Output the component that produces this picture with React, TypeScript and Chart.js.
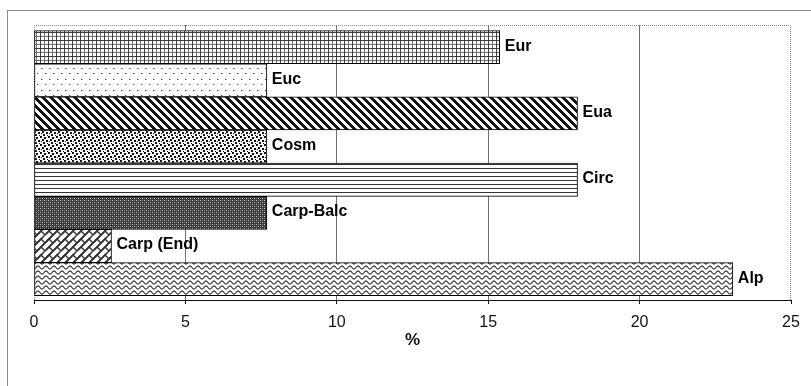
import React, { useEffect, useRef } from "react";
import { Chart, registerables } from "chart.js";

Chart.register(...registerables);

// Chorological spectrum: share of taxa (%) per element, listed top to bottom
const categories = ["Eur", "Euc", "Eua", "Cosm", "Circ", "Carp-Balc", "Carp (End)", "Alp"];
const shares = [15.38, 7.69, 17.95, 7.69, 17.95, 7.69, 2.56, 23.08];
const xTicks = [0, 5, 10, 15, 20, 25];
const axisTitle = "%";

// hatch fill used for each bar, same order as the categories
const hatchNames = ["grid", "sparseDots", "wideDiag", "confetti", "hLines", "darkLattice", "shingle", "wave"];

const FONT = "'Liberation Sans', Arial, Helvetica, sans-serif";

function makeTile(w: number, h: number, draw: (g: CanvasRenderingContext2D) => void): HTMLCanvasElement {
  const c = document.createElement("canvas");
  c.width = w;
  c.height = h;
  const g = c.getContext("2d") as CanvasRenderingContext2D;
  g.fillStyle = "#fff";
  g.fillRect(0, 0, w, h);
  draw(g);
  return c;
}

function hatchTile(name: string): HTMLCanvasElement {
  switch (name) {
    case "grid":
      return makeTile(8, 8, (g) => {
        g.fillStyle = "#707070";
        g.fillRect(0, 4, 8, 1);
        g.fillRect(4, 0, 1, 8);
        g.fillStyle = "#3c3c3c";
        g.fillRect(0, 0, 8, 1);
        g.fillRect(0, 0, 1, 8);
      });
    case "sparseDots":
      return makeTile(8, 11, (g) => {
        g.fillStyle = "#555";
        g.fillRect(1, 2, 1, 1);
        g.fillRect(5, 7, 1, 1);
        g.fillStyle = "#aaa";
        g.fillRect(2, 2, 1, 1);
        g.fillRect(6, 7, 1, 1);
      });
    case "wideDiag":
      return makeTile(8, 8, (g) => {
        g.fillStyle = "#111";
        for (let y = 0; y < 8; y++) {
          for (let k = 0; k < 4; k++) g.fillRect((y + k) % 8, y, 1, 1);
        }
      });
    case "confetti":
      return makeTile(8, 8, (g) => {
        g.fillStyle = "#111";
        const spots = [
          [0, 0],
          [4, 1],
          [2, 3],
          [6, 4],
          [3, 6],
        ];
        for (const [x, y] of spots) g.fillRect(x, y, 2, 2);
        g.fillRect(7, 7, 1, 1);
        g.fillRect(1, 5, 1, 1);
      });
    case "hLines":
      return makeTile(1, 4, (g) => {
        g.fillStyle = "#333";
        g.fillRect(0, 0, 1, 1);
      });
    case "darkLattice":
      return makeTile(4, 4, (g) => {
        g.fillStyle = "#3a3a3a";
        g.fillRect(0, 0, 4, 4);
        g.fillStyle = "#c8c8c8";
        g.fillRect(0, 0, 1, 1);
        g.fillRect(2, 2, 1, 1);
        g.fillStyle = "#7a7a7a";
        g.fillRect(2, 0, 1, 1);
        g.fillRect(0, 2, 1, 1);
      });
    case "shingle":
      return makeTile(16, 16, (g) => {
        g.strokeStyle = "#333";
        g.lineWidth = 1.4;
        const shifts = [-16, 0, 16];
        const seg = (x1: number, y1: number, x2: number, y2: number) => {
          for (const dx of shifts)
            for (const dy of shifts) {
              g.beginPath();
              g.moveTo(x1 + dx, y1 + dy);
              g.lineTo(x2 + dx, y2 + dy);
              g.stroke();
            }
        };
        for (let c = 0; c <= 32; c += 8) seg(c + 2, -2, -2, c + 2);
        seg(1, 7, 5, 11);
        seg(9, -1, 13, 3);
        seg(9, 7, 13, 11);
        seg(1, 15, 5, 19);
      });
    case "wave":
    default:
      return makeTile(8, 5, (g) => {
        g.strokeStyle = "#2e2e2e";
        g.lineWidth = 1.1;
        for (const dy of [-5, 0, 5]) {
          g.beginPath();
          for (let x = -1; x <= 9; x += 0.25) {
            const y = 2.5 + dy + 1.5 * Math.sin((2 * Math.PI * x) / 8);
            if (x === -1) g.moveTo(x, y);
            else g.lineTo(x, y);
          }
          g.stroke();
        }
      });
  }
}

export default function App() {
  const canvasRef = useRef<HTMLCanvasElement | null>(null);

  useEffect(() => {
    document.body.style.margin = "0";
    const canvas = canvasRef.current;
    if (!canvas) return;
    const ctx = canvas.getContext("2d") as CanvasRenderingContext2D;
    const fills = hatchNames.map((n) => ctx.createPattern(hatchTile(n), "repeat") as CanvasPattern);

    const pageFrame = {
      id: "pageFrame",
      beforeDraw(chart: any) {
        const c = chart.ctx;
        c.save();
        c.fillStyle = "#fff";
        c.fillRect(0, 0, chart.width, chart.height);
        c.strokeStyle = "#8c8c8c";
        c.lineWidth = 1;
        c.strokeRect(7.5, 10.5, chart.width + 20, chart.height + 20);
        c.restore();
      },
      beforeDatasetsDraw(chart: any) {
        const { left, right, top, bottom } = chart.chartArea;
        const c = chart.ctx;
        c.save();
        c.strokeStyle = "#8a8a8a";
        c.lineWidth = 1;
        c.setLineDash([1, 1]);
        c.beginPath();
        c.moveTo(left + 0.5, bottom);
        c.lineTo(left + 0.5, top + 0.5);
        c.lineTo(right - 0.5, top + 0.5);
        c.lineTo(right - 0.5, bottom);
        c.stroke();
        c.restore();
      },
    };

    const barLabels = {
      id: "barLabels",
      afterDatasetsDraw(chart: any) {
        const c = chart.ctx;
        const meta = chart.getDatasetMeta(0);
        c.save();
        c.font = `bold 16px ${FONT}`;
        c.fillStyle = "#000";
        c.textAlign = "left";
        c.textBaseline = "middle";
        meta.data.forEach((bar: any, i: number) => {
          c.fillText(categories[i], bar.x + 5, bar.y - 1);
        });
        c.restore();
      },
    };

    const chart = new Chart(ctx, {
      type: "bar",
      data: {
        labels: categories,
        datasets: [
          {
            data: shares.map((v, i) => ({ x: v, y: i })) as any,
            backgroundColor: fills,
            borderColor: "#000",
            borderWidth: 1,
            borderSkipped: false,
            barPercentage: 1,
            categoryPercentage: 1,
          },
        ],
      },
      options: {
        indexAxis: "y",
        responsive: false,
        animation: false,
        events: [],
        layout: { padding: { left: 34, right: 20, top: 25, bottom: 0 } },
        plugins: { legend: { display: false }, tooltip: { enabled: false } },
        scales: {
          y: {
            type: "linear",
            display: false,
            reverse: true,
            offset: false,
            grid: { offset: false },
            min: -0.67,
            max: categories.length - 1 + 0.63,
            afterBuildTicks(scale: any) {
              // one tick per category row, so each bar spans a full row
              scale.ticks = categories.map((_, i) => ({ value: i }));
            },
          },
          x: {
            type: "linear",
            min: xTicks[0],
            max: xTicks[xTicks.length - 1],
            afterFit(scale: any) {
              scale.height = 86;
            },
            afterBuildTicks(scale: any) {
              scale.ticks = xTicks.map((v) => ({ value: v }));
            },
            border: { display: true, color: "#111", width: 1 },
            grid: {
              color: (c: any) => {
                const v = c.tick ? c.tick.value : null;
                return v === xTicks[0] || v === xTicks[xTicks.length - 1] ? "rgba(0,0,0,0)" : "#707070";
              },
              lineWidth: 1,
              tickColor: "#111",
              tickLength: 4,
              drawTicks: true,
            },
            ticks: {
              color: "#111",
              padding: 9,
              font: { family: FONT, size: 16 },
              maxRotation: 0,
            },
            title: {
              display: true,
              text: axisTitle,
              color: "#111",
              font: { family: FONT, size: 17, weight: "bold" },
              padding: { top: 0, bottom: 35 },
            },
          },
        },
      },
      plugins: [pageFrame, barLabels],
    });

    return () => chart.destroy();
  }, []);

  return (
    <div style={{ width: 811, height: 386, position: "relative" }}>
      <canvas ref={canvasRef} width={811} height={386} style={{ display: "block" }} />
    </div>
  );
}
